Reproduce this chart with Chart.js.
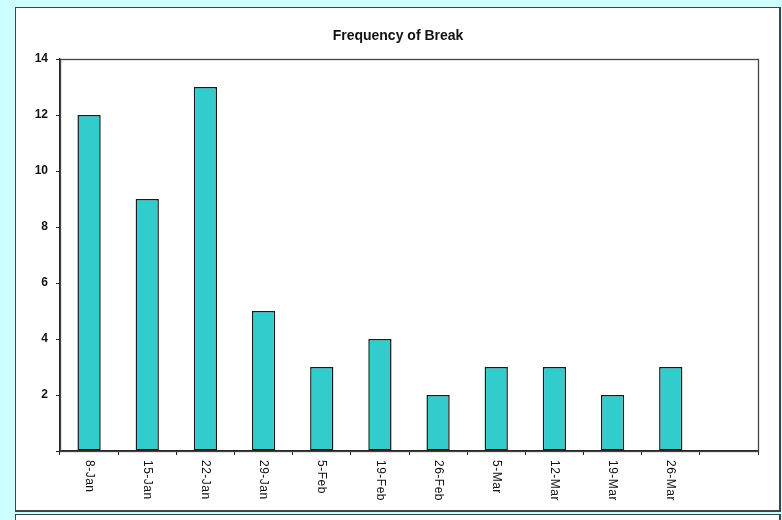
<!DOCTYPE html>
<html>
<head>
<meta charset="utf-8">
<script src="https://cdn.jsdelivr.net/npm/chart.js@4"></script>
<style>
  html, body { margin: 0; padding: 0; }
  body { width: 782px; height: 520px; background: #ccffff; position: relative; overflow: hidden; }
  .panel { position: absolute; left: 15px; width: 763px; background: #fff;
           border: 1px solid #3c4646; border-right-width: 2px; border-bottom-width: 2px; }
  #main { top: 7px; height: 502px; }
  #below { top: 514px; height: 30px; }
  canvas { position: absolute; left: 0; top: 0; }
</style>
</head>
<body>
<div class="panel" id="main"></div>
<div class="panel" id="below"></div>
<canvas id="c" width="782" height="520"></canvas>
<script>
// Weekly counts of breaks; the trailing slot is an empty week.
const weeks = ['8-Jan', '15-Jan', '22-Jan', '29-Jan', '5-Feb', '19-Feb', '26-Feb', '5-Mar', '12-Mar', '19-Mar', '26-Mar', ''];
const breaks = [12, 9, 13, 5, 3, 4, 2, 3, 3, 2, 3, null];
const yTicks = [0, 2, 4, 6, 8, 10, 12, 14];
const chartTitle = 'Frequency of Break';

const FONT = '"Liberation Sans", Arial, sans-serif';
Chart.defaults.font.family = FONT;
Chart.defaults.color = '#000';

// Frame around the plot area (top and right edges close the box).
const plotFrame = {
  id: 'plotFrame',
  beforeDatasetsDraw(chart) {
    const { ctx, chartArea: a } = chart;
    ctx.save();
    ctx.strokeStyle = '#444';
    ctx.lineWidth = 1.3;
    ctx.strokeRect(Math.round(a.left) + 0.5, Math.round(a.top) + 0.5,
                   Math.round(a.right - a.left), Math.round(a.bottom - a.top));
    ctx.restore();
  }
};

// Heading centred over the white panel.
const heading = {
  id: 'heading',
  afterDraw(chart) {
    const { ctx } = chart;
    const panel = document.getElementById('main').getBoundingClientRect();
    ctx.save();
    ctx.font = 'bold 14px ' + FONT;
    ctx.fillStyle = '#111';
    ctx.textAlign = 'center';
    ctx.textBaseline = 'middle';
    ctx.fillText(chartTitle, panel.left + panel.width / 2, chart.chartArea.top - 23);
    ctx.restore();
  }
};

// Category labels written top-to-bottom under each slot.
const verticalLabels = {
  id: 'verticalLabels',
  afterDraw(chart) {
    const { ctx } = chart;
    const xs = chart.scales.x;
    ctx.save();
    ctx.font = '12px ' + FONT;
    ctx.fillStyle = '#111';
    ctx.textAlign = 'left';
    ctx.textBaseline = 'middle';
    if ('letterSpacing' in ctx) ctx.letterSpacing = '0.5px';
    weeks.forEach((lab, i) => {
      if (!lab) return;
      const x = xs.getPixelForValue(i);
      ctx.save();
      ctx.translate(x, xs.top + 9);
      ctx.rotate(Math.PI / 2);
      ctx.fillText(lab, 0, 0);
      ctx.restore();
    });
    ctx.restore();
  }
};

new Chart(document.getElementById('c'), {
  type: 'bar',
  data: {
    labels: weeks,
    datasets: [{
      data: breaks,
      backgroundColor: '#33cccc',
      borderColor: '#1a1a1a',
      borderWidth: 1.5,
      borderSkipped: false,
      categoryPercentage: 1,
      barPercentage: 0.4
    }]
  },
  options: {
    responsive: false,
    devicePixelRatio: 1,
    animation: false,
    layout: { padding: { left: 0, right: 24, top: 59, bottom: 0 } },
    plugins: {
      legend: { display: false },
      tooltip: { enabled: false },
      title: { display: false }
    },
    scales: {
      x: {
        offset: true,
        grid: { offset: true, drawOnChartArea: false, drawTicks: true, tickLength: 4, color: '#222' },
        border: { color: '#222', width: 1.3 },
        ticks: { display: false },
        afterFit(s) { s.height = 69; }
      },
      y: {
        min: yTicks[0],
        max: yTicks[yTicks.length - 1],
        afterBuildTicks(s) { s.ticks = yTicks.map(v => ({ value: v })); },
        grid: { drawOnChartArea: false, drawTicks: true, tickLength: 4, color: '#222' },
        border: { color: '#222', width: 1.3 },
        ticks: {
          padding: 8,
          color: '#111',
          font: { size: 12, weight: 'bold', family: FONT },
          callback: v => (v === 0 ? '' : v)
        },
        afterFit(s) { s.width = 60; }
      }
    }
  },
  plugins: [plotFrame, heading, verticalLabels]
});
</script>
</body>
</html>
